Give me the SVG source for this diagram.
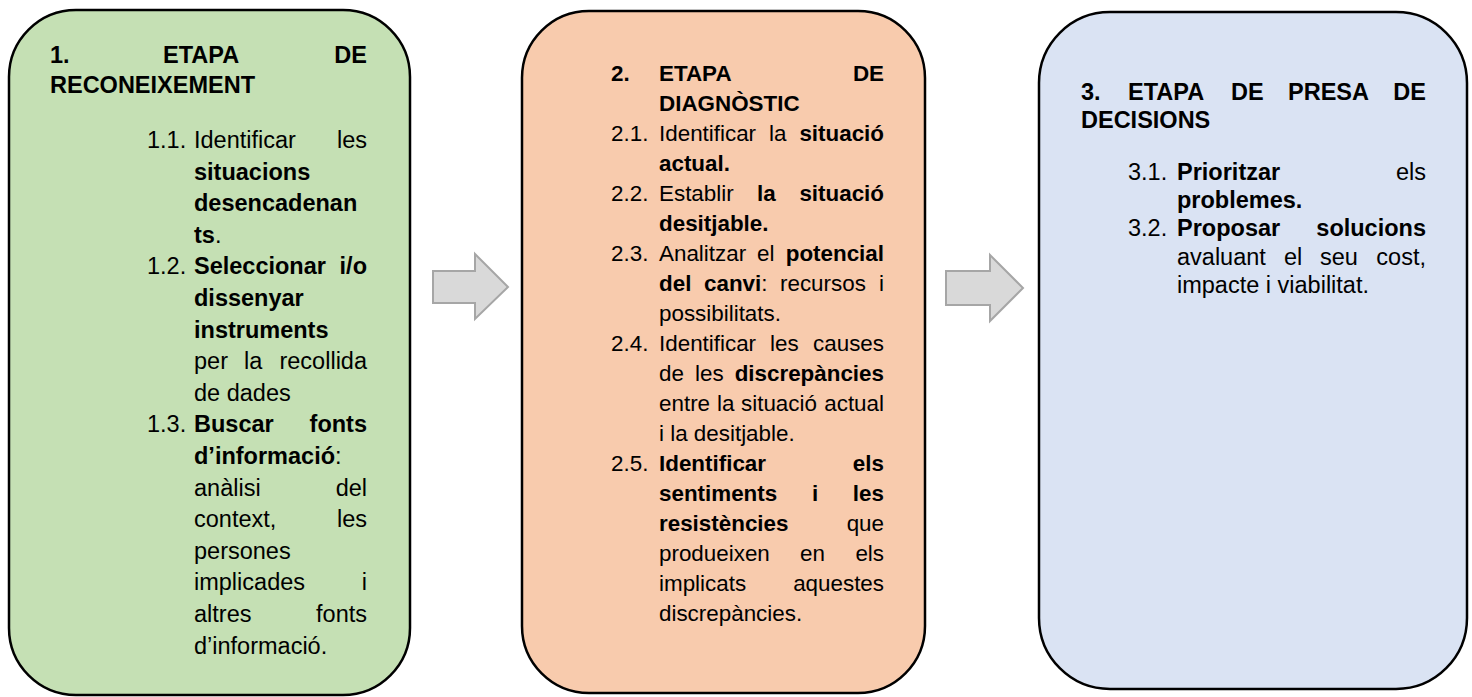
<svg xmlns="http://www.w3.org/2000/svg" width="1472" height="697" viewBox="0 0 1472 697">
<style>
text{font-family:"Liberation Sans",Arial,sans-serif;fill:#000}
.b1 text{font-size:23.5px}
.b2 text{font-size:22.4px}
.b3 text{font-size:23.5px}
.bd{font-weight:bold}
.e{text-anchor:end}
.box{stroke:#000;stroke-width:2.5}
.arr{fill:#d9d9d9;stroke:#a6a6a6;stroke-width:2}
</style>
<rect width="1472" height="697" fill="#fff"/>
<g id="connectors">
<path class="arr" d="M433,271 H475 V254 L508,287 L475,319 V303 H433 Z"/>
<path class="arr" d="M946,271 H990 V255 L1023,288 L990,321 V305 H946 Z"/>
</g>
<g id="node-1" class="b1">
<rect class="box" x="9" y="10" width="401" height="685" rx="67" ry="67" fill="#c5e0b4"/>
<text class="bd" x="50" y="63">1.</text>
<text class="bd" x="163" y="63">ETAPA</text>
<text class="bd e" x="367" y="63">DE</text>
<text class="bd" x="50" y="93">RECONEIXEMENT</text>
<text x="147" y="148">1.1.</text>
<text x="194" y="148">Identificar</text>
<text class="e" x="367" y="148">les</text>
<text class="bd" x="194" y="179.6">situacions</text>
<text class="bd" x="194" y="211.2">desencadenan</text>
<text x="194" y="242.8"><tspan class="bd">ts</tspan>.</text>
<text x="147" y="274.4">1.2.</text>
<text class="bd" x="194" y="274.4">Seleccionar</text>
<text class="bd e" x="367" y="274.4">i/o</text>
<text class="bd" x="194" y="306">dissenyar</text>
<text class="bd" x="194" y="337.6">instruments</text>
<text x="194" y="369.2">per</text>
<text x="244" y="369.2">la</text>
<text class="e" x="367" y="369.2">recollida</text>
<text x="194" y="400.8">de dades</text>
<text x="147" y="432.4">1.3.</text>
<text class="bd" x="194" y="432.4">Buscar</text>
<text class="bd e" x="367" y="432.4">fonts</text>
<text x="194" y="464"><tspan class="bd">d’informació</tspan>:</text>
<text x="194" y="495.6">anàlisi</text>
<text class="e" x="367" y="495.6">del</text>
<text x="194" y="527.2">context,</text>
<text class="e" x="367" y="527.2">les</text>
<text x="194" y="558.8">persones</text>
<text x="194" y="590.4">implicades</text>
<text class="e" x="367" y="590.4">i</text>
<text x="194" y="622">altres</text>
<text class="e" x="367" y="622">fonts</text>
<text x="194" y="653.6">d’informació.</text>
</g>
<g id="node-2" class="b2">
<rect class="box" x="522" y="11" width="403" height="682" rx="67" ry="67" fill="#f8cbad"/>
<text class="bd" x="611" y="81">2.</text>
<text class="bd" x="659" y="81">ETAPA</text>
<text class="bd e" x="884" y="81">DE</text>
<text class="bd" x="659" y="111">DIAGNÒSTIC</text>
<text x="611" y="141">2.1.</text>
<text x="659" y="141">Identificar</text>
<text x="769" y="141">la</text>
<text class="bd e" x="884" y="141">situació</text>
<text class="bd" x="659" y="171">actual.</text>
<text x="611" y="201">2.2.</text>
<text x="659" y="201">Establir</text>
<text class="bd" x="757" y="201">la</text>
<text class="bd e" x="884" y="201">situació</text>
<text class="bd" x="659" y="231">desitjable.</text>
<text x="611" y="261">2.3.</text>
<text x="659" y="261">Analitzar</text>
<text x="757" y="261">el</text>
<text class="bd e" x="884" y="261">potencial</text>
<text class="bd" x="659" y="291">del</text>
<text x="704" y="291"><tspan class="bd">canvi</tspan>:</text>
<text x="780" y="291">recursos</text>
<text class="e" x="884" y="291">i</text>
<text x="659" y="321">possibilitats.</text>
<text x="611" y="351">2.4.</text>
<text x="659" y="351">Identificar</text>
<text x="770" y="351">les</text>
<text class="e" x="884" y="351">causes</text>
<text x="659" y="381">de</text>
<text x="695" y="381">les</text>
<text class="bd e" x="884" y="381">discrepàncies</text>
<text x="659" y="411">entre</text>
<text x="717" y="411">la</text>
<text x="741" y="411">situació</text>
<text class="e" x="884" y="411">actual</text>
<text x="659" y="441">i la desitjable.</text>
<text x="611" y="471">2.5.</text>
<text class="bd" x="659" y="471">Identificar</text>
<text class="bd e" x="884" y="471">els</text>
<text class="bd" x="659" y="501">sentiments</text>
<text class="bd" x="812" y="501">i</text>
<text class="bd e" x="884" y="501">les</text>
<text class="bd" x="659" y="531">resistències</text>
<text class="e" x="884" y="531">que</text>
<text x="659" y="561">produeixen</text>
<text x="800" y="561">en</text>
<text class="e" x="884" y="561">els</text>
<text x="659" y="591">implicats</text>
<text class="e" x="884" y="591">aquestes</text>
<text x="659" y="621">discrepàncies.</text>
</g>
<g id="node-3" class="b3">
<rect class="box" x="1039" y="12" width="428" height="677" rx="71" ry="71" fill="#dae3f3"/>
<text class="bd" x="1081" y="100">3.</text>
<text class="bd" x="1128" y="100">ETAPA</text>
<text class="bd" x="1231" y="100">DE</text>
<text class="bd" x="1288" y="100">PRESA</text>
<text class="bd e" x="1426" y="100">DE</text>
<text class="bd" x="1081" y="128">DECISIONS</text>
<text x="1128" y="180">3.1.</text>
<text class="bd" x="1177" y="180">Prioritzar</text>
<text class="e" x="1426" y="180">els</text>
<text class="bd" x="1177" y="207.5">problemes.</text>
<text x="1128" y="236">3.2.</text>
<text class="bd" x="1177" y="236">Proposar</text>
<text class="bd e" x="1426" y="236">solucions</text>
<text x="1177" y="264.5">avaluant</text>
<text x="1284" y="264.5">el</text>
<text x="1320" y="264.5">seu</text>
<text class="e" x="1426" y="264.5">cost,</text>
<text x="1177" y="293">impacte i viabilitat.</text>
</g>
</svg>
